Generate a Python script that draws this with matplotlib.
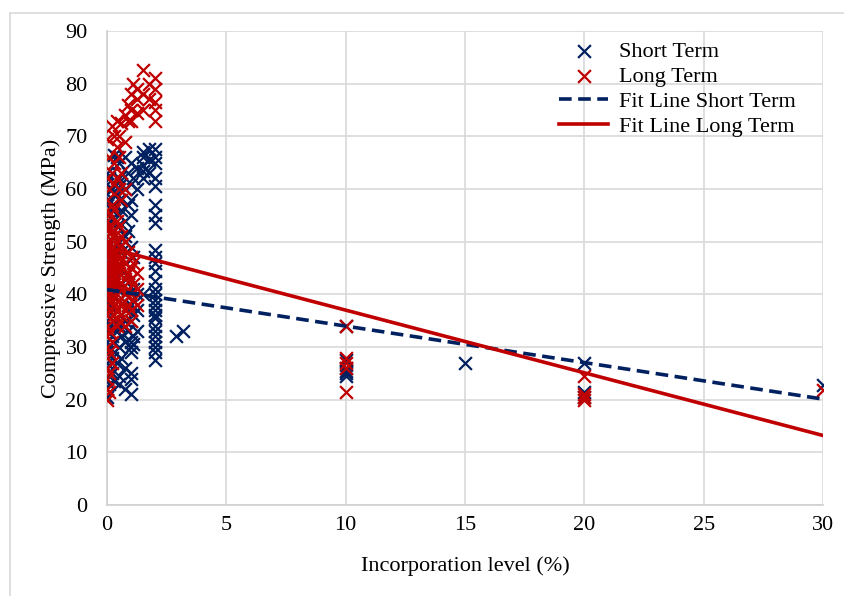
import matplotlib.pyplot as plt
from matplotlib.lines import Line2D

plt.rcParams['font.family'] = ['Liberation Serif', 'DejaVu Serif']

# short term results, grouped by incorporation level
short_x = ([0.0] * 23 + [0.1] * 11 + [0.2] * 9 + [0.3] * 8 + [0.4] * 8 + [0.5] * 11
           + [0.6] * 7 + [0.75] * 10 + [0.9] * 6 + [1.0] * 14 + [1.1] * 6 + [1.25] * 5
           + [1.5] * 6 + [1.75] * 3 + [2.0] * 27 + [2.9, 3.2] + [10.0] * 6 + [15.0]
           + [20.0] * 3 + [30.0])
short_y = [63, 61, 59, 57, 55, 53, 51, 49, 47, 45, 43, 41, 39, 37, 35, 33, 31, 29, 27, 26, 24, 22, 20.5,
           62, 58, 54, 50, 46, 42, 38, 34, 30, 26.5, 23,
           60, 56, 52, 44, 40, 36, 32, 28, 25,
           66.5, 61, 57, 49, 43, 35, 29, 23.5,
           66, 59, 53, 47, 41, 37, 33, 27,
           65, 62, 58, 55, 50, 45, 39, 34, 30, 24.5, 23,
           61, 56, 48, 42, 36, 32, 28,
           66, 60, 54, 51, 46, 40, 35, 31, 26, 22,
           63, 57, 52, 44, 38, 33,
           65, 61, 58, 55, 49, 43, 38, 35, 31, 30, 29, 25, 24, 21,
           62, 47, 41, 36, 32, 30.5,
           64, 60, 40, 37, 33,
           67, 66, 64.5, 63.5, 62, 40,
           67.5, 65.5, 63,
           67.5, 66, 65, 62, 60.5, 57, 55, 53.5, 48.5, 47, 46, 44.5, 42.5, 41, 40, 39, 38, 37,
           36, 35.5, 34, 33, 32, 31, 30, 29, 27.5,
           32, 33,
           34, 27.5, 26, 25.5, 25, 24.5,
           27,
           27, 21.5, 20.5,
           22.7]

# long term results
long_x = ([0.0] * 29 + [0.1] * 15 + [0.2] * 13 + [0.3] * 11 + [0.4] * 11 + [0.5] * 10
          + [0.6] * 9 + [0.75] * 9 + [0.9] * 6 + [1.0] * 9 + [1.1] * 4 + [1.25] * 6
          + [1.5] * 3 + [1.75] * 2 + [2.0] * 5 + [10.0] * 5 + [20.0] * 4 + [30.0])
long_y = [69.5, 62, 58, 56, 54, 52, 51, 50, 49, 48, 47, 46, 45, 44, 43, 42, 41, 40, 39, 38,
          36, 34, 32, 30, 28, 26, 24, 22, 20,
          66, 60, 55, 53, 50, 48, 46, 44, 42, 40, 37, 33, 29, 25, 21.5,
          72, 63, 57, 52, 49, 47, 45, 43, 41, 39, 35, 31, 27,
          70, 65, 61, 56, 51, 48, 46, 44, 42, 38, 36,
          73, 68, 62, 54, 50, 47, 45, 43, 40, 37, 34,
          70, 66, 60, 53, 49, 46, 44, 42, 39, 35,
          72.5, 63, 58, 51, 47, 45, 41, 38, 36,
          74, 69, 60, 50, 46, 43, 40, 37, 34,
          76, 73, 48, 44, 41, 38,
          78, 75, 73, 47, 45, 43, 40, 37, 35,
          80, 46, 42, 39,
          79, 77, 74.5, 44, 41, 38,
          82.5, 78, 75,
          80, 77,
          81, 79, 76.5, 75, 73,
          34, 28, 27, 26, 21.5,
          24.5, 21, 20.5, 20,
          21.8]

# linear fits (intercept, slope)
fit_short = (40.9, -0.693)
fit_long = (48.9, -1.19)
fit_x = [0, 30]

navy = '#002060'
red = '#C00000'

fig = plt.figure(figsize=(8.44, 5.96), dpi=100)
ax = fig.add_axes([0.1268, 0.1527, 0.8483, 0.7953])

ax.scatter(short_x, short_y, marker='x', s=85, color=navy, linewidths=1.6,
           label='Short Term', zorder=3)
ax.scatter(long_x, long_y, marker='x', s=85, color=red, linewidths=1.6,
           label='Long Term', zorder=3)
ax.plot(fit_x, [fit_short[0] + fit_short[1] * x for x in fit_x], color=navy, lw=2.6,
        ls=(0, (3.5, 1.8)), label='Fit Line Short Term', zorder=4)
ax.plot(fit_x, [fit_long[0] + fit_long[1] * x for x in fit_x], color=red, lw=2.6,
        label='Fit Line Long Term', zorder=4)

ax.set_xlim(0, 30)
ax.set_ylim(0, 90)
ax.set_xticks(range(0, 31, 5))
ax.set_yticks(range(0, 91, 10))
ax.grid(True, color='#d9d9d9', lw=1.2)
ax.set_axisbelow(True)
for side in ['top', 'right']:
    ax.spines[side].set_visible(False)
for side in ['left', 'bottom']:
    ax.spines[side].set_color('#d0d0d0')
    ax.spines[side].set_linewidth(1.2)
ax.tick_params(length=0, labelsize=16)
ax.tick_params(axis='y', pad=14)
ax.tick_params(axis='x', pad=8)
ax.set_xlabel('Incorporation level (%)', fontsize=16, labelpad=15)
ax.set_ylabel('Compressive Strength (MPa)', fontsize=16, labelpad=3)

ax.legend(loc='upper right', frameon=False, fontsize=16, bbox_to_anchor=(0.99, 1.02),
          handlelength=2.2, handletextpad=0.5, labelspacing=0.2)

# chart area border
fig.add_artist(Line2D([10 / 844, 10 / 844], [0, 1 - 13 / 596], color='#d9d9d9', lw=1.2))
fig.add_artist(Line2D([10 / 844, 1], [1 - 13 / 596, 1 - 13 / 596], color='#d9d9d9', lw=1.2))

fig.savefig('out.png', dpi=100)
